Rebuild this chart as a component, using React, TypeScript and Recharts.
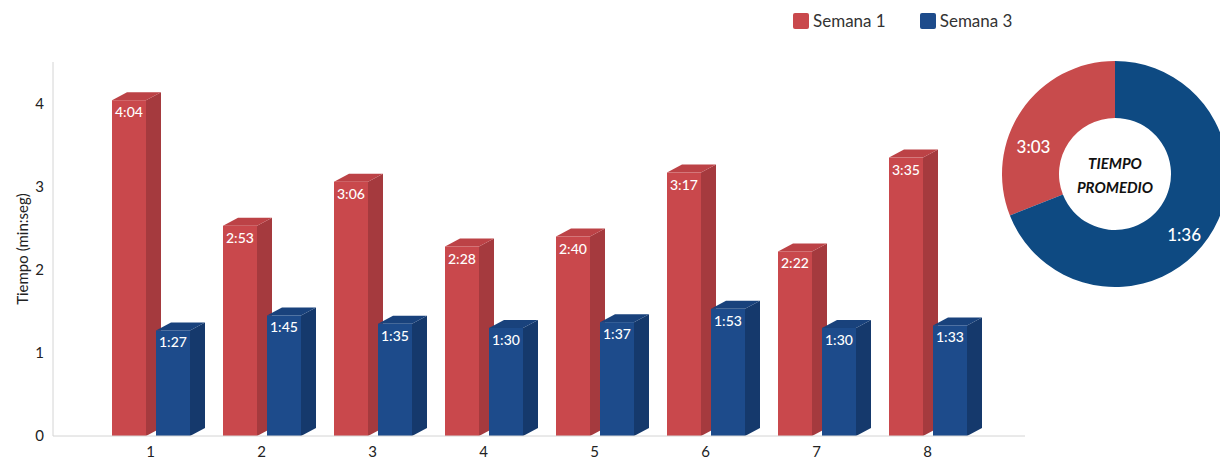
import React from 'react';
import { BarChart, Bar, XAxis, YAxis, LabelList, PieChart, Pie, Cell } from 'recharts';

const weeks = ['1', '2', '3', '4', '5', '6', '7', '8'];
const semana1 = [4.04, 2.53, 3.06, 2.28, 2.4, 3.17, 2.22, 3.35];
const semana3 = [1.27, 1.45, 1.35, 1.3, 1.37, 1.53, 1.3, 1.33];
const yTicks = [0, 1, 2, 3, 4];

// donut: slice shares as drawn, labels as printed
const donutShares = [1.36, 3.03];
const donutLabels = ['3:03', '1:36'];

const RED = { front: '#C9484C', side: '#A53A3E', top: '#BC4246' };
const BLUE = { front: '#1D4B8B', side: '#15396C', top: '#19427C' };
const FONT = 'Lato, "Open Sans", sans-serif';

const data = weeks.map((w, i) => ({ week: w, s1: semana1[i], s3: semana3[i] }));
const donutData = donutShares.map((v, i) => ({ name: donutLabels[i], value: v }));

const fmt = (v: number) => v.toFixed(2).replace('.', ':');

const makeBar3D = (c: { front: string; side: string; top: string }) => (props: any) => {
  const { x, y, width, height } = props;
  if (height == null || height <= 0) return null;
  const d = 15;
  const dy = 8;
  return (
    <g>
      <polygon
        points={`${x + width},${y} ${x + width + d},${y - dy} ${x + width + d},${y + height - dy} ${x + width},${y + height}`}
        fill={c.side}
      />
      <polygon points={`${x},${y} ${x + d},${y - dy} ${x + width + d},${y - dy} ${x + width},${y}`} fill={c.top} />
      <rect x={x} y={y} width={width} height={height} fill={c.front} />
    </g>
  );
};

const BarValue = (props: any) => {
  const { x, y, value } = props;
  return (
    <text x={x + 3} y={y + 17} fill="#fff" fontSize={14} fontFamily={FONT} fontWeight={500}>
      {fmt(value)}
    </text>
  );
};

const LegendBox = () => (
  <div style={{ position: 'absolute', left: 793, top: 10, display: 'flex', gap: 34, fontFamily: FONT, fontSize: 17, color: '#333' }}>
    {[
      { name: 'Semana 1', color: RED.front },
      { name: 'Semana 3', color: BLUE.front },
    ].map((it) => (
      <div key={it.name} style={{ display: 'flex', alignItems: 'center', gap: 4 }}>
        <span style={{ width: 16, height: 16, background: it.color, borderRadius: 2, display: 'inline-block' }} />
        <span>{it.name}</span>
      </div>
    ))}
  </div>
);

const RADIAN = Math.PI / 180;
const labelShift = [12, -4];
const DonutLabel = (props: any) => {
  const { cx, cy, midAngle, index } = props;
  const r = 88;
  const a = midAngle + labelShift[index];
  const x = cx + r * Math.cos(-a * RADIAN);
  const y = cy + r * Math.sin(-a * RADIAN) + 6;
  return (
    <text x={x} y={y} fill="#fff" fontSize={17} fontFamily={FONT} fontWeight={500} textAnchor="middle" dominantBaseline="central">
      {donutLabels[index]}
    </text>
  );
};

export default function App() {
  return (
    <div style={{ position: 'absolute', left: 0, top: 0, width: 1220, height: 462, overflow: 'hidden', background: '#fff' }}>
      <div style={{ position: 'absolute', left: 0, top: 0 }}>
        <BarChart width={1040} height={462} data={data} margin={{ top: 62, right: 15, left: 0, bottom: 0 }} barSize={34} barGap={10}>
          <XAxis
            dataKey="week"
            height={26}
            padding={{ left: 42, right: 42 }}
            axisLine={{ stroke: '#d4d4d4' }}
            tickLine={false}
            tickSize={0}
            tickMargin={10}
            tick={{ fontSize: 15, fill: '#222', fontFamily: FONT }}
          />
          <YAxis
            width={53}
            domain={[0, 4.5]}
            ticks={yTicks}
            axisLine={{ stroke: '#d4d4d4' }}
            tickLine={false}
            tickSize={0}
            tickMargin={9}
            tick={{ fontSize: 15, fill: '#222', fontFamily: FONT }}
            label={{ value: 'Tiempo (min:seg)', angle: -90, position: 'center', dx: -4, style: { fontSize: 15, fill: '#222', fontFamily: FONT } }}
          />
          <Bar dataKey="s1" name="Semana 1" fill={RED.front} shape={makeBar3D(RED)} isAnimationActive={false}>
            <LabelList dataKey="s1" content={BarValue} />
          </Bar>
          <Bar dataKey="s3" name="Semana 3" fill={BLUE.front} shape={makeBar3D(BLUE)} isAnimationActive={false}>
            <LabelList dataKey="s3" content={BarValue} />
          </Bar>
        </BarChart>
      </div>
      <LegendBox />
      <div style={{ position: 'absolute', left: 995, top: 54 }}>
        <PieChart width={240} height={240} margin={{ top: 0, right: 0, bottom: 0, left: 0 }}>
          <Pie
            data={donutData}
            dataKey="value"
            cx={120}
            cy={120}
            innerRadius={56}
            outerRadius={113}
            startAngle={90}
            endAngle={450}
            stroke="none"
            label={DonutLabel}
            labelLine={false}
            isAnimationActive={false}
          >
            <Cell fill="#C84B4C" />
            <Cell fill="#0E4A82" />
          </Pie>
          <text x={120} y={109} textAnchor="middle" dominantBaseline="central" fontSize={15} fontWeight={700} fontStyle="italic" fontFamily={FONT} fill="#111">
            TIEMPO
          </text>
          <text x={120} y={133} textAnchor="middle" dominantBaseline="central" fontSize={15} fontWeight={700} fontStyle="italic" fontFamily={FONT} fill="#111">
            PROMEDIO
          </text>
        </PieChart>
      </div>
    </div>
  );
}
